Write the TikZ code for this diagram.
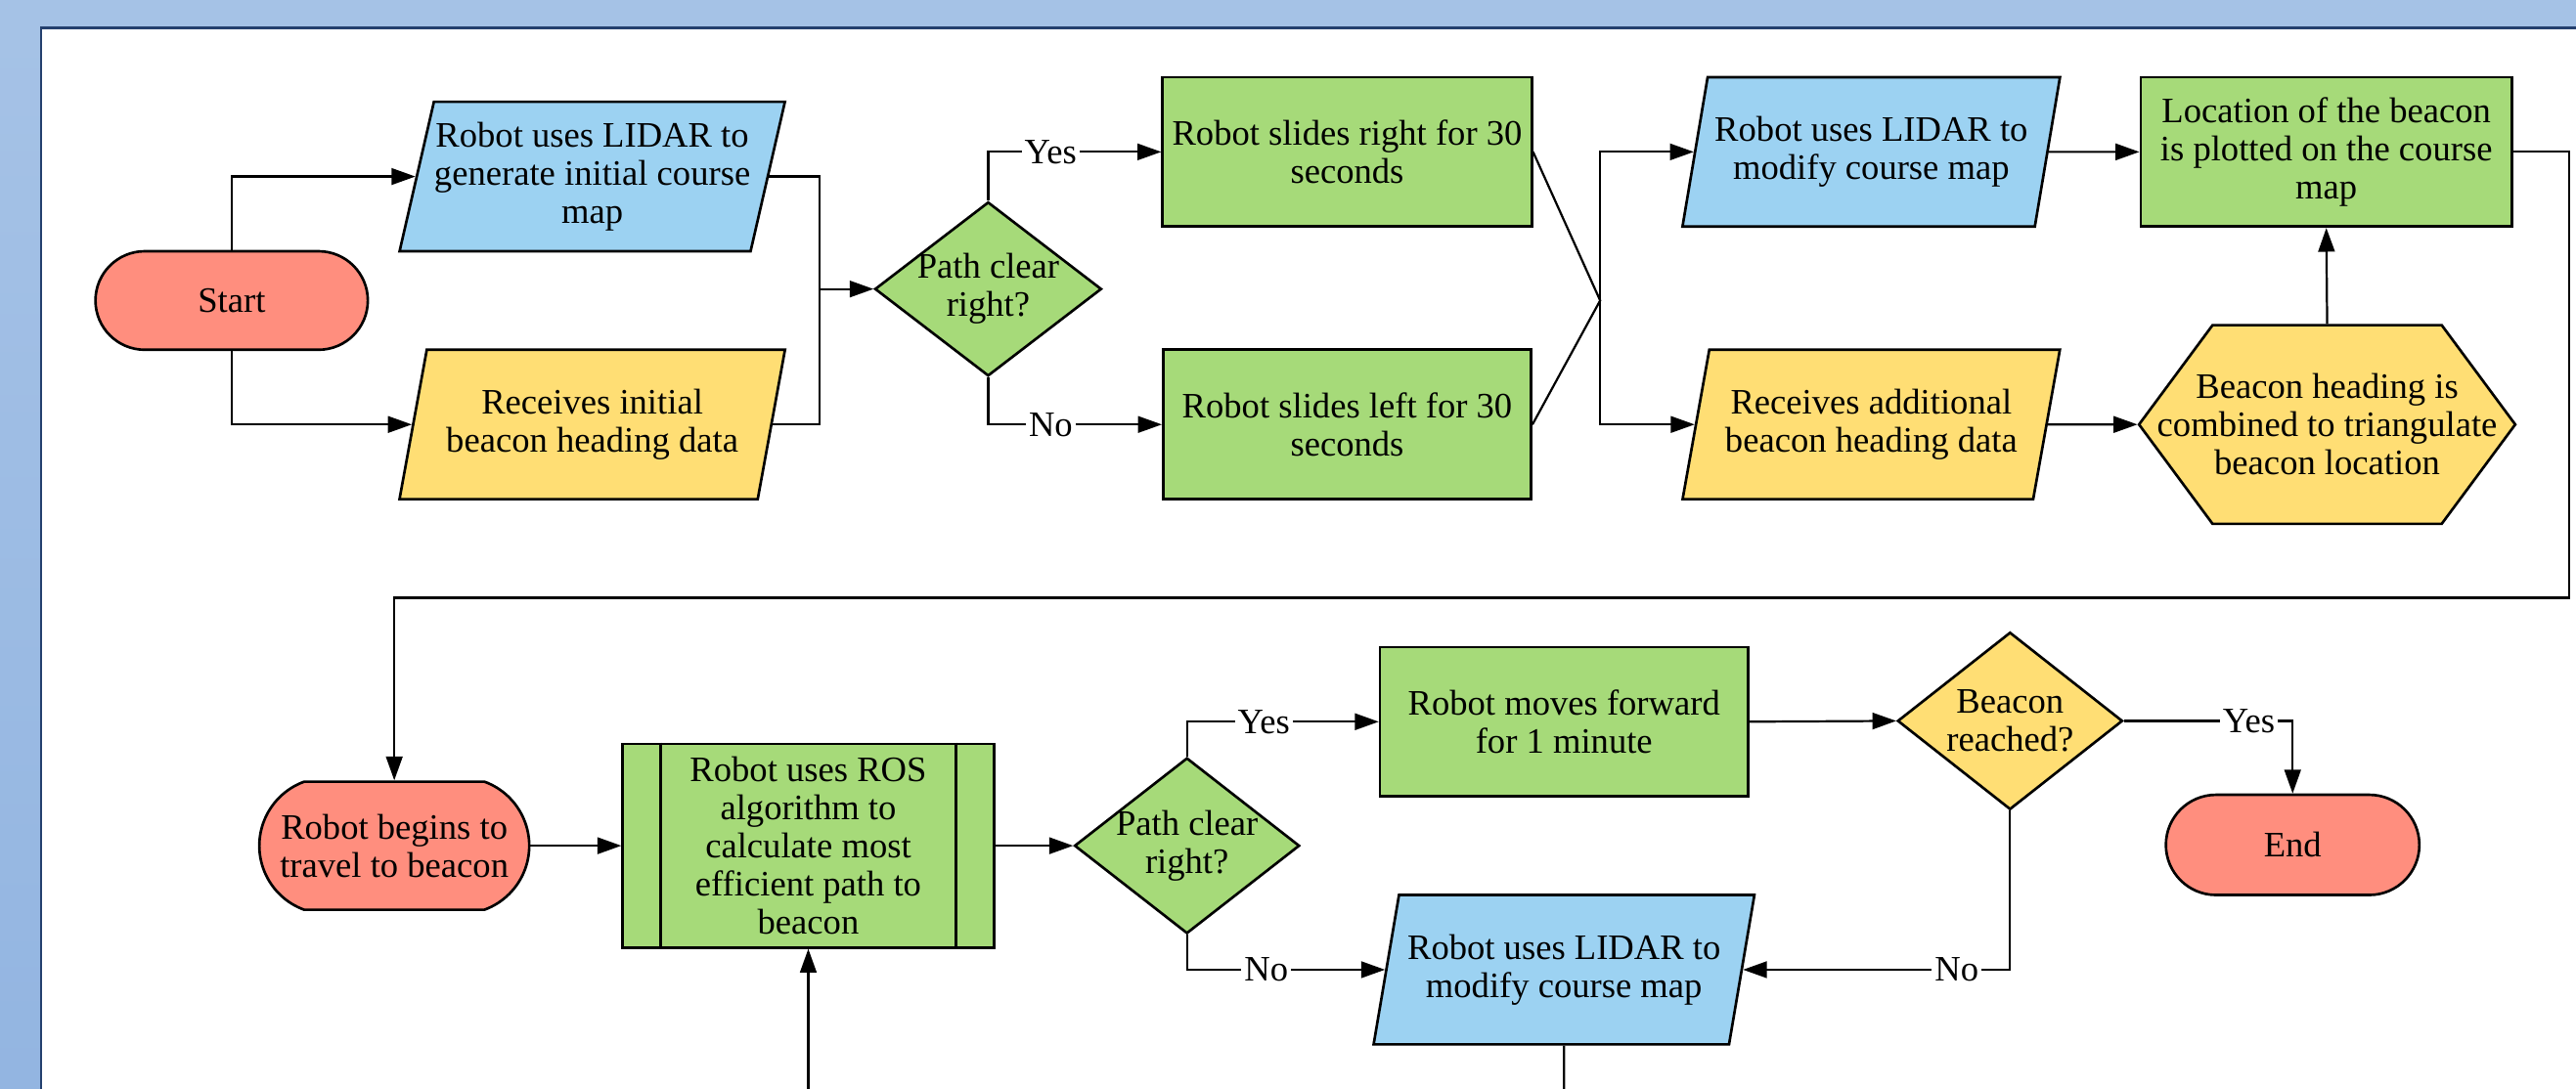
\documentclass[tikz,border=0pt]{standalone}
\usepackage{fontspec}
\setmainfont{Liberation Serif}
\usepackage{xcolor}
\definecolor{flowred}{HTML}{FF8E7E}
\definecolor{flowblue}{HTML}{9CD2F2}
\definecolor{flowyellow}{HTML}{FFDE74}
\definecolor{flowgreen}{HTML}{A6DA79}
\definecolor{bgblue}{HTML}{A5C2E6}
\definecolor{bgdark}{HTML}{93B5E1}
\definecolor{panelline}{HTML}{24406E}
\usetikzlibrary{positioning, arrows.meta, shapes.geometric, shapes.misc, shapes.symbols}

\begin{document}
\begin{tikzpicture}[
  font=\fontsize{12.4}{13.2}\selectfont,
  terminal/.style={
    rounded rectangle, draw, fill=flowred, line width=0.9pt,
    minimum width=3.55cm, minimum height=1.2cm, align=center
  },
  io/.style={
    trapezium, trapezium left angle=75, trapezium right angle=105,
    trapezium stretches=true, draw, line width=0.9pt,
    minimum width=4.7cm, minimum height=1.82cm, align=center, inner xsep=0pt
  },
  process/.style={
    rectangle, draw, fill=flowgreen, line width=0.9pt,
    minimum width=4.48cm, minimum height=1.82cm, align=center
  },
  decision/.style={
    diamond, draw, line width=0.9pt, aspect=1.3,
    minimum width=2.76cm, minimum height=2.12cm, align=center,
    inner xsep=-0.2cm, inner ysep=0pt
  },
  prep/.style={
    signal, signal to=west and east, signal pointer angle=107,
    draw, fill=flowyellow, line width=0.9pt,
    minimum width=4.58cm, minimum height=2.42cm, align=center, inner xsep=-0.85cm
  },
  arrow/.style={-{Triangle[length=2.9mm, width=2mm]}, line width=0.75pt},
  link/.style={line width=0.75pt},
  lab/.style={fill=white, inner sep=1pt}
]
\useasboundingbox (0,0) rectangle (31.36,-13.26);
\begin{scope}
\clip (0,0) rectangle (31.36,-13.26);

% ---- Fond et cadre ----
\fill[bgblue] (0,0) rectangle (31.36,-13.26);
\shade[top color=bgblue, bottom color=bgdark] (0,-0.34) rectangle (0.5,-13.26);
\draw[panelline, line width=0.75pt, fill=white] (0.5,-0.34) rectangle (32,-14);

% ---- Ligne 1 ----
\node[terminal] (start) at (2.82,-3.66) {Start};

\node[io, fill=flowblue] (lidarA) at (7.21,-2.15) {
  Robot uses LIDAR to\\
  generate initial course\\
  map
};

\node[io, fill=flowyellow] (beaconA) at (7.21,-5.17) {
  Receives initial\\
  beacon heading data
};

\coordinate (join) at (9.98,-3.52);

\node[decision, fill=flowgreen] (clearA) at (12.03,-3.52) {Path clear\\right?};

\node[process] (slideR) at (16.4,-1.85) {Robot slides right for 30\\seconds};
\node[process] (slideL) at (16.4,-5.17) {Robot slides left for 30\\seconds};

\coordinate (merge) at (19.48,-3.66);

\node[io, fill=flowblue, minimum width=4.6cm] (lidarB) at (22.78,-1.85) {
  Robot uses LIDAR to\\
  modify course map
};

\node[io, fill=flowyellow, minimum width=4.6cm] (beaconB) at (22.78,-5.17) {
  Receives additional\\
  beacon heading data
};

\node[process, minimum width=4.52cm] (plot) at (28.32,-1.85) {
  Location of the beacon\\
  is plotted on the course\\
  map
};

\node[prep] (triang) at (28.33,-5.17) {
  Beacon heading is\\
  combined to triangulate\\
  beacon location
};

\coordinate (wrap) at (31.28,-7.28);

% ---- Ligne 2 ----
\node[terminal, minimum width=3.52cm, minimum height=1.56cm, rounded rectangle arc length=140] (travel) at (4.8,-10.3) {
  Robot begins to\\
  travel to beacon
};

\node[process, minimum width=4.52cm, minimum height=2.48cm] (ros) at (9.84,-10.3) {
  Robot uses ROS\\
  algorithm to\\
  calculate most\\
  efficient path to\\
  beacon
};
\draw[line width=0.9pt] ([xshift=0.48cm]ros.north west) -- ([xshift=0.48cm]ros.south west);
\draw[line width=0.9pt] ([xshift=-0.48cm]ros.north east) -- ([xshift=-0.48cm]ros.south east);

\node[decision, fill=flowgreen, minimum width=2.74cm, minimum height=2.14cm] (clearB) at (14.45,-10.3) {Path clear\\right?};

\node[process] (forward) at (19.04,-8.79) {Robot moves forward\\for 1 minute};

\node[decision, fill=flowyellow, minimum width=2.74cm, minimum height=2.16cm] (reached) at (24.47,-8.78) {Beacon\\reached?};

\node[terminal, minimum width=3.32cm, minimum height=1.22cm] (finish) at (27.91,-10.29) {End};

\node[io, fill=flowblue, minimum width=4.64cm] (lidarC) at (19.04,-11.81) {
  Robot uses LIDAR to\\
  modify course map
};

\coordinate (offC) at (19.04,-13.6);
\coordinate (offR) at (9.84,-13.6);

% Flèches ligne 1
\draw[arrow] (start.north) |- (lidarA.west);
\draw[arrow] (start.south) |- (beaconA.west);
\draw[link] (lidarA.east) -| (join);
\draw[link] (beaconA.east) -| (join);
\draw[arrow] (join) -- (clearA.west);

\draw[arrow] (clearA.north) |- node[pos=0.68, lab]{Yes} (slideR.west);
\draw[arrow] (clearA.south) |- node[pos=0.68, lab]{No} (slideL.west);

\draw[link] (slideR.east) -- (merge) -- (slideL.east);
\draw[arrow] (merge) |- (lidarB.west);
\draw[arrow] (merge) |- (beaconB.west);

\draw[arrow] (lidarB.east) -- (plot.west);
\draw[arrow] (beaconB.east) -- (triang.west);
\draw[arrow] (triang.north) -- (plot.south);

% Retour vers la ligne 2
\draw[arrow] (plot.east) -| (wrap) -| (travel.north);

% Flèches ligne 2
\draw[arrow] (travel.east) -- (ros.west);
\draw[arrow] (offR) -- (ros.south);
\draw[arrow] (ros.east) -- (clearB.west);

\draw[arrow] (clearB.north) |- node[pos=0.7, lab]{Yes} (forward.west);
\draw[arrow] (clearB.south) |- node[pos=0.7, lab]{No} (lidarC.west);

\draw[arrow] (forward.east) -- (reached.west);
\draw[arrow] (reached.east) -| node[pos=0.37, lab]{Yes} (finish.north);
\draw[arrow] (reached.south) |- node[pos=0.6, lab]{No} (lidarC.east);

\draw[link] (lidarC.south) -- (offC);
\end{scope}

\end{tikzpicture}
\end{document}
